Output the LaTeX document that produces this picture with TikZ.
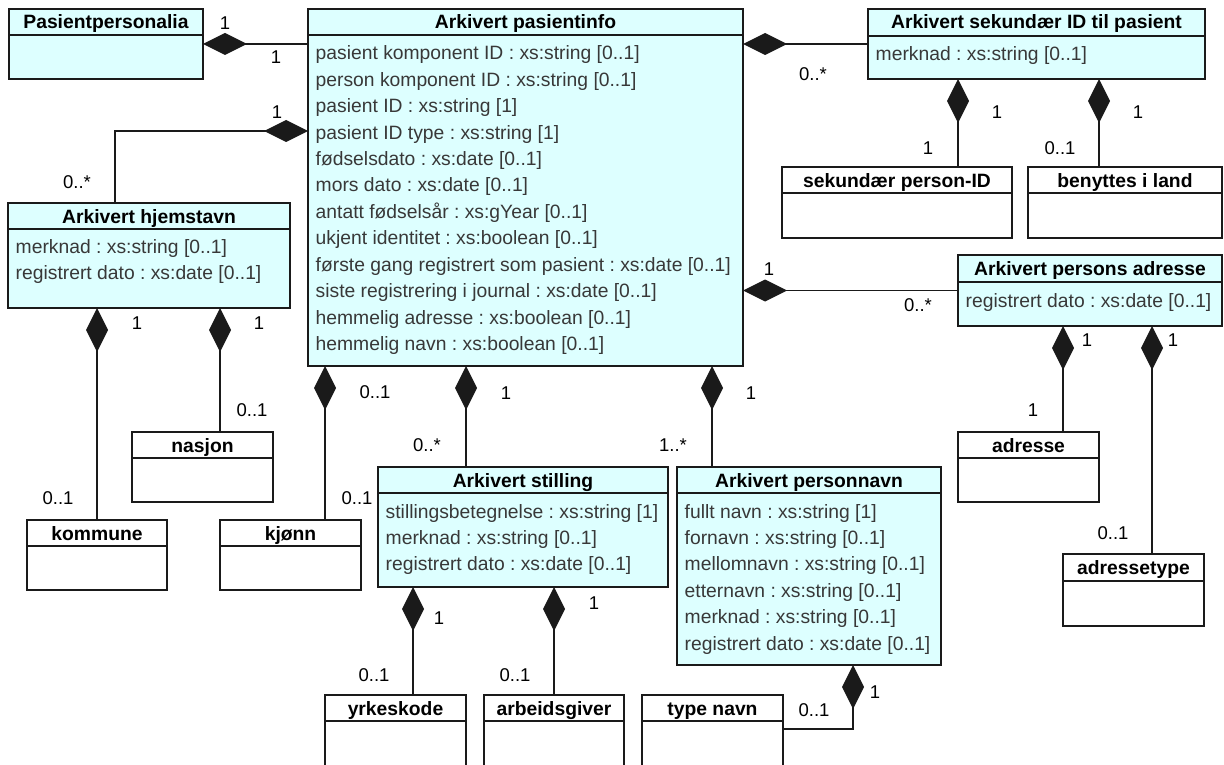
\documentclass[tikz,border=0pt]{standalone}
\usepackage{fontspec}
\setmainfont{Liberation Sans}
\usetikzlibrary{arrows.meta,calc}
\frenchspacing
\definecolor{clsfill}{HTML}{DDFFFF}
\definecolor{linec}{HTML}{1A1A1A}
\definecolor{attrc}{HTML}{383838}
\tikzset{
  clsbox/.style={draw=linec, line width=1.7pt, inner sep=0pt, outer sep=0pt},
  clsline/.style={draw=linec, line width=1.7pt},
  clstitle/.style={font=\fontsize{19.3}{23}\selectfont\bfseries, text=black, inner sep=0pt},
  clsattr/.style={font=\fontsize{19.3}{23}\selectfont, text=attrc, inner sep=0pt},
  mult/.style={font=\fontsize{18.5}{22}\selectfont, text=black, inner sep=0pt},
  compo/.style={draw=linec, line width=1.7pt, {Diamond[length=44pt,width=22pt]}-}
}
\newcommand{\umlclass}[8]{%
  \node[clsbox, fill=#7, minimum width=#4pt, minimum height=#5pt, anchor=north west] (#1) at (#2,#3) {};
  \draw[clsline] ([yshift=-#6pt]#1.north west) -- ([yshift=-#6pt]#1.north east);
  \node[clstitle, anchor=base] (#1-t) at ([yshift=-20pt]#1.north) {#8};
}
\newcommand{\umlattrs}[3]{%
  \foreach \txt [count=\i from 0] in {#3} {
    \node[clsattr, anchor=base west] (#1-a\i) at ([xshift=7.5pt, yshift={-(#2+26.4*\i)*1pt}]#1.north west) {\txt};
  }
}
\begin{document}
\begin{tikzpicture}[x=1pt,y=-1pt]
\useasboundingbox (0,0) rectangle (1224,765);
\clip (0,0) rectangle (1224,765);
\fill[white] (0,0) rectangle (1224,765);

% classes
\umlclass{pp}{9}{9}{194}{70}{26}{clsfill}{Pasientpersonalia}
\umlclass{pi}{308}{9}{435}{357}{26}{clsfill}{Arkivert pasientinfo}
\umlattrs{pi}{51}{pasient komponent ID : xs:string [0..1],
  person komponent ID : xs:string [0..1],
  pasient ID : xs:string [1],
  pasient ID type : xs:string [1],
  fødselsdato : xs:date [0..1],
  mors dato : xs:date [0..1],
  antatt fødselsår : xs:gYear [0..1],
  ukjent identitet : xs:boolean [0..1],
  første gang registrert som pasient : xs:date [0..1],
  siste registrering i journal : xs:date [0..1],
  hemmelig adresse : xs:boolean [0..1],
  hemmelig navn : xs:boolean [0..1]}
\umlclass{sek}{868}{9}{337}{70}{27}{clsfill}{Arkivert sekundær ID til pasient}
\umlattrs{sek}{52}{merknad : xs:string [0..1]}
\umlclass{spid}{782}{167}{230}{71}{26}{white}{sekundær person-ID}
\umlclass{bil}{1028}{167}{194}{71}{26}{white}{benyttes i land}
\umlclass{hj}{8}{203}{282}{105}{26}{clsfill}{Arkivert hjemstavn}
\umlattrs{hj}{50}{merknad : xs:string [0..1],
  registrert dato : xs:date [0..1]}
\umlclass{nas}{132}{432}{141}{70}{26}{white}{nasjon}
\umlclass{kom}{27}{520}{140}{70}{26}{white}{kommune}
\umlclass{kj}{220}{520}{141}{70}{26}{white}{kjønn}
\umlclass{st}{378}{467}{290}{120}{26}{clsfill}{Arkivert stilling}
\umlattrs{st}{51}{stillingsbetegnelse : xs:string [1],
  merknad : xs:string [0..1],
  registrert dato : xs:date [0..1]}
\umlclass{pn}{677}{467}{264}{198}{26}{clsfill}{Arkivert personnavn}
\umlattrs{pn}{51}{fullt navn : xs:string [1],
  fornavn : xs:string [0..1],
  mellomnavn : xs:string [0..1],
  etternavn : xs:string [0..1],
  merknad : xs:string [0..1],
  registrert dato : xs:date [0..1]}
\umlclass{yrk}{325}{695}{141}{80}{26}{white}{yrkeskode}
\umlclass{arb}{484}{695}{140}{80}{26}{white}{arbeidsgiver}
\umlclass{tn}{642}{695}{141}{80}{26}{white}{type navn}
\umlclass{pa}{958}{255}{264}{71}{27}{clsfill}{Arkivert persons adresse}
\umlattrs{pa}{52}{registrert dato : xs:date [0..1]}
\umlclass{adr}{958}{432}{141}{70}{26}{white}{adresse}
\umlclass{adt}{1063}{554}{141}{72}{27}{white}{adressetype}

% attachment points
\coordinate (pi-hj) at ([yshift=-122pt]pi.north west);
\coordinate (hj-top) at ([xshift=107pt]hj.north west);
\coordinate (sek-b1) at ([xshift=90pt]sek.south west);
\coordinate (sek-b2) at ([xshift=231pt]sek.south west);
\coordinate (hj-b1) at ([xshift=89pt]hj.south west);
\coordinate (hj-b2) at ([xshift=212pt]hj.south west);
\coordinate (pi-b1) at ([xshift=17pt]pi.south west);
\coordinate (pi-b2) at ([xshift=158pt]pi.south west);
\coordinate (pi-b3) at ([xshift=404pt]pi.south west);
\coordinate (pa-b1) at ([xshift=105pt]pa.south west);
\coordinate (pa-b2) at ([xshift=194pt]pa.south west);
\coordinate (st-b1) at ([xshift=35pt]st.south west);
\coordinate (st-b2) at ([xshift=176pt]st.south west);
\coordinate (pn-b1) at ([xshift=176pt]pn.south west);
\coordinate (tn-r) at ([yshift=-34pt]tn.north east);

% connectors (diamond at the whole)
\draw[compo] (pp.east) -- (pp.east -| pi.west);
\draw[compo] (sek.west -| pi.east) -- (sek.west);
\draw[compo] (pa.west -| pi.east) -- (pa.west);
\draw[compo] (pi-hj) -- (pi-hj -| hj-top) -- (hj-top);
\draw[compo] (sek-b1) -- (sek-b1 |- spid.north);
\draw[compo] (sek-b2) -- (sek-b2 |- bil.north);
\draw[compo] (hj-b1) -- (hj-b1 |- kom.north);
\draw[compo] (hj-b2) -- (hj-b2 |- nas.north);
\draw[compo] (pi-b1) -- (pi-b1 |- kj.north);
\draw[compo] (pi-b2) -- (pi-b2 |- st.north);
\draw[compo] (pi-b3) -- (pi-b3 |- pn.north);
\draw[compo] (pa-b1) -- (pa-b1 |- adr.north);
\draw[compo] (pa-b2) -- (pa-b2 |- adt.north);
\draw[compo] (st-b1) -- (st-b1 |- yrk.north);
\draw[compo] (st-b2) -- (st-b2 |- arb.north);
\draw[compo] (pn-b1) -- (pn-b1 |- tn-r) -- (tn-r);

% multiplicities
\node[mult] (m1) at (225,23) {1};
\node[mult] (m2) at (276,57) {1};
\node[mult] (m3) at (813,74) {0..*};
\node[mult] (m4) at (997,112) {1};
\node[mult] (m5) at (1138,112) {1};
\node[mult] (m6) at (928,148) {1};
\node[mult] (m7) at (1060,148) {0..1};
\node[mult] (m8) at (277,112) {1};
\node[mult] (m9) at (77,182) {0..*};
\node[mult] (m10) at (137,323) {1};
\node[mult] (m11) at (259,323) {1};
\node[mult] (m12) at (252,410) {0..1};
\node[mult] (m13) at (58,498) {0..1};
\node[mult] (m14) at (375,392) {0..1};
\node[mult] (m15) at (357,498) {0..1};
\node[mult] (m16) at (506,393) {1};
\node[mult] (m17) at (427,445) {0..*};
\node[mult] (m18) at (751,393) {1};
\node[mult] (m19) at (673,445) {1..*};
\node[mult] (m20) at (769,269) {1};
\node[mult] (m21) at (918,305) {0..*};
\node[mult] (m22) at (1087,340) {1};
\node[mult] (m23) at (1173,340) {1};
\node[mult] (m24) at (1033,410) {1};
\node[mult] (m25) at (1113,533) {0..1};
\node[mult] (m26) at (439,618) {1};
\node[mult] (m27) at (594,603) {1};
\node[mult] (m28) at (374,675) {0..1};
\node[mult] (m29) at (515,675) {0..1};
\node[mult] (m30) at (875,692) {1};
\node[mult] (m31) at (814,710) {0..1};
\end{tikzpicture}
\end{document}
